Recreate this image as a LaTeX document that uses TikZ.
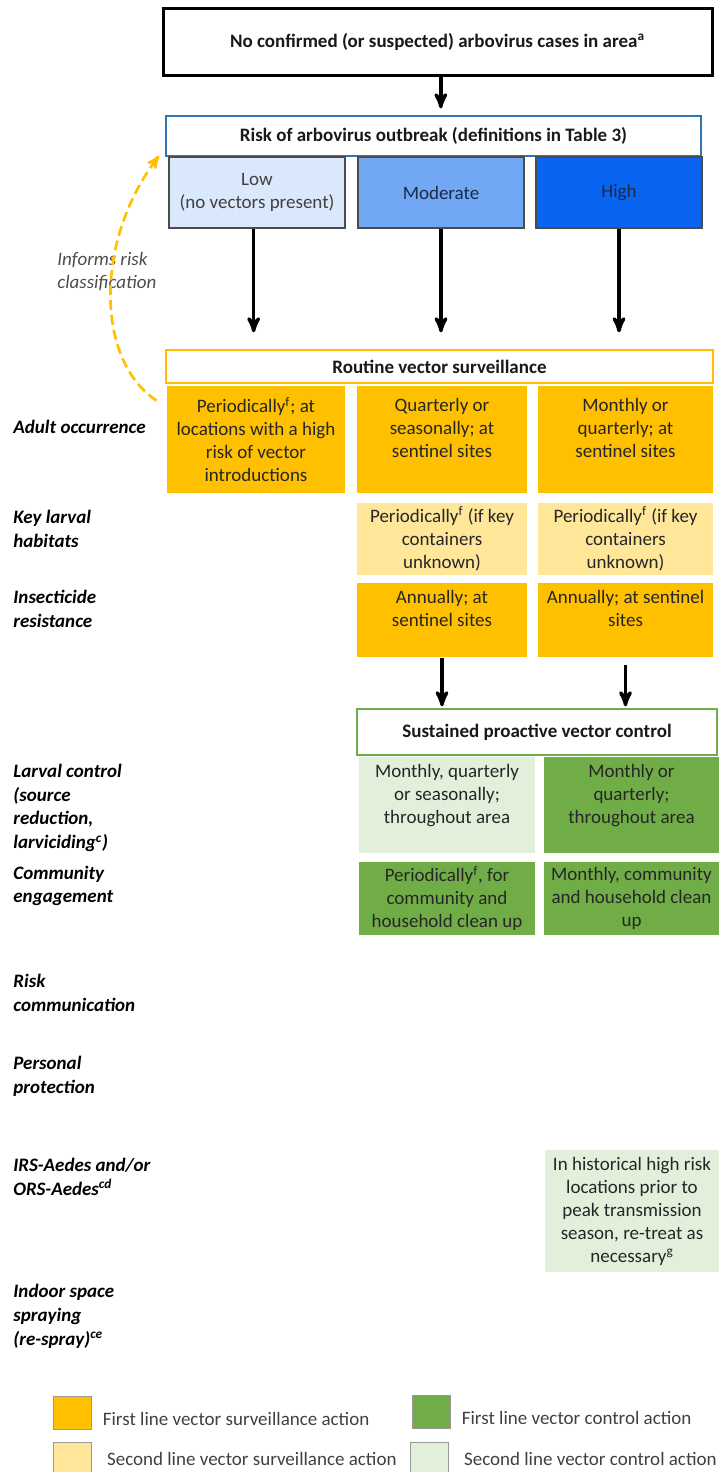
\documentclass[tikz,border=0pt]{standalone}
\usepackage{fontspec}
\setmainfont{Carlito}
\usepackage{tikz}
\usetikzlibrary{arrows,positioning}
\definecolor{survfirst}{HTML}{FFC000}
\definecolor{survsecond}{HTML}{FFE699}
\definecolor{ctrlfirst}{HTML}{70AD47}
\definecolor{ctrlsecond}{HTML}{E2EFDA}
\definecolor{risklow}{HTML}{DAE8FC}
\definecolor{riskmod}{HTML}{72A7F4}
\definecolor{riskhigh}{HTML}{0A64F2}
\definecolor{riskedge}{HTML}{2E75B6}
\definecolor{navytext}{HTML}{1B2A48}

\begin{document}
\begin{tikzpicture}[x=0.6pt,y=-0.6pt,->,>=stealth',line width=1.7pt,
                    font=\fontsize{11.4}{13.8}\selectfont]
  \tikzstyle{cell}=[rectangle,inner sep=0pt,align=center,text=black!85]
  \tikzstyle{header}=[rectangle,inner sep=0pt,fill=white,text=black!90,
                      font=\fontsize{11.4}{13.8}\selectfont\bfseries]
  \tikzstyle{riskbox}=[cell,draw=black!70,line width=0.8pt,minimum height=42.6pt]
  \tikzstyle{rowlabel}=[anchor=west,align=left,inner sep=0pt,
                        font=\fontsize{11.4}{14.3}\selectfont\bfseries\itshape]
  \tikzstyle{key}=[rectangle,draw=black!40,line width=0.6pt,minimum width=22.8pt,
                   minimum height=19.8pt]
  \tikzstyle{keytext}=[inner sep=0pt,text=black!75]
  \tikzstyle{flow}=[draw=black,line width=2pt]

  \useasboundingbox (0,0) rectangle (719,1472);

  % risk classification
  \node[header,draw=black,line width=1.8pt,minimum width=329.4pt,minimum height=40.2pt]
        (cases) at (437.5,41.5) {No confirmed (or suspected) arbovirus cases in area\textsuperscript{a}};
  \node[header,draw=riskedge,line width=1.2pt,minimum width=321pt,minimum height=24pt]
        (risk) at (433.5,136) {Risk of arbovirus outbreak (definitions in Table 3)};
  \node[riskbox,fill=risklow,minimum width=105.6pt,text=black!75] (low)      at (257,192.5) {Low\\(no vectors present)};
  \node[riskbox,fill=riskmod,minimum width=99.6pt,text=navytext]  (moderate) at (441,192.5) {Moderate};
  \node[riskbox,fill=riskhigh,minimum width=99.6pt,text=navytext] (high)     at (619,192.5) {High};

  % routine vector surveillance
  \node[header,draw=survfirst,line width=1.2pt,minimum width=328.2pt,minimum height=19.8pt]
        (routine) at (439.5,366.5) {Routine vector surveillance};
  \node[cell,fill=survfirst,minimum width=106.8pt,minimum height=64.2pt] (adultlow)  at (256,439.5)
        {Periodically\textsuperscript{f}; at\\locations with a high\\risk of vector\\introductions};
  \node[cell,fill=survfirst,minimum width=102pt,minimum height=64.2pt]   (adultmod)  at (442,439.5)
        {Quarterly or\\seasonally; at\\sentinel sites\\~};
  \node[cell,fill=survfirst,minimum width=105pt,minimum height=64.2pt]   (adulthigh) at (625.5,439.5)
        {Monthly or\\quarterly; at\\sentinel sites\\~};
  \node[cell,fill=survsecond,minimum width=102pt,minimum height=43.2pt]  (habmod)    at (442,539)
        {Periodically\textsuperscript{f} (if key\\containers\\unknown)};
  \node[cell,fill=survsecond,minimum width=105pt,minimum height=43.2pt]  (habhigh)   at (625.5,539)
        {Periodically\textsuperscript{f} (if key\\containers\\unknown)};
  \node[cell,fill=survfirst,minimum width=102pt,minimum height=44.4pt]   (insmod)    at (442,620)
        {Annually; at\\sentinel sites\\~};
  \node[cell,fill=survfirst,minimum width=105pt,minimum height=44.4pt]   (inshigh)   at (625.5,620)
        {Annually; at sentinel\\sites\\~};

  % sustained proactive vector control
  \node[header,draw=ctrlfirst,line width=1.2pt,minimum width=216pt,minimum height=27.6pt]
        (sustained) at (537,732) {Sustained proactive vector control};
  \node[cell,fill=ctrlsecond,minimum width=105.6pt,minimum height=57.6pt] (larvmod)  at (447,805)
        {Monthly, quarterly\\or seasonally;\\throughout area\\~};
  \node[cell,fill=ctrlfirst,minimum width=105pt,minimum height=57.6pt]   (larvhigh) at (631.5,805)
        {Monthly or\\quarterly;\\throughout area\\~};
  \node[cell,fill=ctrlfirst,minimum width=105.6pt,minimum height=43.8pt] (commmod)  at (447,898.5)
        {Periodically\textsuperscript{f}, for\\community and\\household clean up};
  \node[cell,fill=ctrlfirst,minimum width=105pt,minimum height=43.8pt]   (commhigh) at (631.5,898.5)
        {Monthly, community\\and household clean\\up};
  \node[cell,fill=ctrlsecond,minimum width=104.4pt,minimum height=73.2pt] (irshigh) at (632,1211)
        {In historical high risk\\locations prior to\\peak transmission\\season, re-treat as\\necessary\textsuperscript{g}};

  % row labels
  \node[anchor=west,align=left,inner sep=0pt,text=black!70,font=\fontsize{11.4}{13.8}\selectfont\itshape]
        (informs) at (56,271.5) {Informs risk\\classification};
  \node[rowlabel] (adultlab) at (12,427)  {Adult occurrence};
  \node[rowlabel] (hablab)   at (12,528.5) {Key larval\\habitats};
  \node[rowlabel] (inslab)   at (12,608.5) {Insecticide\\resistance};
  \node[rowlabel] (larvlab)  at (12,808)  {Larval control\\(source\\reduction,\\larviciding\textsuperscript{c})};
  \node[rowlabel] (commlab)  at (12,886)  {Community\\engagement};
  \node[rowlabel] (risklab)  at (12,993)  {Risk\\communication};
  \node[rowlabel] (perslab)  at (12,1076) {Personal\\protection};
  \node[rowlabel] (irslab)   at (12,1177) {IRS-Aedes and/or\\ORS-Aedes\textsuperscript{cd}};
  \node[rowlabel] (indlab)   at (12,1316) {Indoor space\\spraying\\(re-spray)\textsuperscript{ce}};

  % legend
  \node[key,fill=survfirst]  (key1) at (72,1413) {};
  \node[keytext,right=6pt of key1,yshift=-3.5pt] (key1text) {First line vector surveillance action};
  \node[key,fill=survsecond] (key2) at (72,1458.5) {};
  \node[keytext,right=8.5pt of key2] (key2text) {Second line vector surveillance action};
  \node[key,fill=ctrlfirst]  (key3) at (431,1411.5) {};
  \node[keytext,right=6pt of key3,yshift=-4pt] (key3text) {First line vector control action};
  \node[key,fill=ctrlsecond] (key4) at (429,1458.5) {};
  \node[keytext,right=8.5pt of key4] (key4text) {Second line vector control action};

  \path ([xshift=2pt]cases.south) edge [flow,shorten >=4pt]  ([xshift=2pt]cases.south |- risk.north)
        ([xshift=-2pt]low.south) edge [flow,shorten >=10pt] ([xshift=-2pt]low.south |- routine.north)
        (moderate.south) edge [flow,shorten >=10pt] (moderate.south |- routine.north)
        (high.south)  edge [flow,shorten >=10pt] (high.south |- routine.north)
        (insmod.south)  edge [flow,shorten >=1pt] (insmod.south |- sustained.north)
        (inshigh.south) edge [flow,shorten >=1pt,shorten <=4pt] (inshigh.south |- sustained.north);

  \draw[survfirst,line width=1.6pt,dash pattern=on 6pt off 3pt]
        ([shift={(-9,16)}]adultlow.north west) .. controls (95,360) and (95,240)
        .. ([shift={(-6,-1)}]risk.south west);
\end{tikzpicture}
\end{document}
